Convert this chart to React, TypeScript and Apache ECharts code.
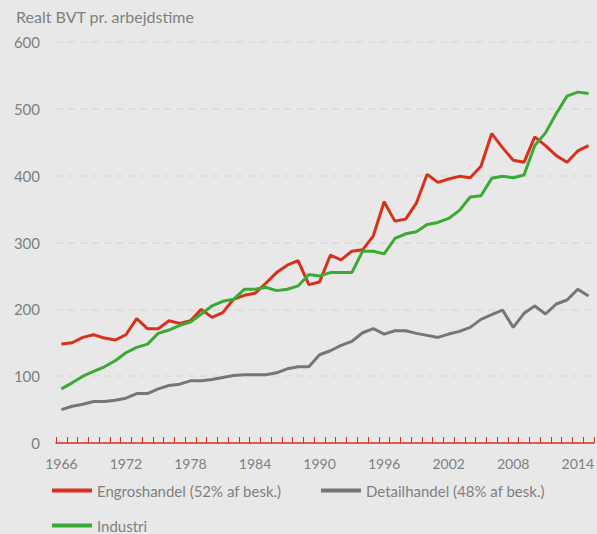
import React, { useEffect, useRef } from "react";
import * as echarts from "echarts";

const years: string[] = [];
for (let y = 1966; y <= 2015; y++) years.push(String(y));

const engros = [
  148, 150, 158, 162, 157, 154, 162, 186, 171, 171,
  183, 179, 183, 200, 188, 195, 215, 221, 224, 239,
  255, 266, 273, 237, 241, 281, 274, 287, 289, 310,
  361, 332, 335, 359, 402, 390, 395, 399, 397, 414,
  463, 442, 423, 420, 458, 445, 430, 420, 437, 445,
];
const detail = [
  50, 55, 58, 62, 62, 64, 67, 74, 74, 81,
  86, 88, 93, 93, 95, 98, 101, 102, 102, 102,
  105, 111, 114, 114, 132, 138, 146, 152, 165, 171,
  163, 168, 168, 164, 161, 158, 163, 167, 173, 185,
  192, 199, 173, 194, 205, 193, 208, 214, 230, 220,
];
const industri = [
  81, 90, 100, 107, 114, 123, 135, 143, 148, 164,
  169, 176, 181, 193, 205, 212, 215, 230, 230, 233,
  228, 230, 235, 252, 250, 255, 255, 255, 287, 287,
  283, 306, 313, 316, 327, 330, 336, 348, 368, 370,
  396, 399, 397, 401, 445, 464, 493, 519, 525, 523,
];

const NAME_E = "Engroshandel (52% af besk.)";
const NAME_D = "Detailhandel (48% af besk.)";
const NAME_I = "Industri";
const RED = "#d9301c";
const GRAY = "#767676";
const GREEN = "#3aaa35";
const TXT = "#7f7f7f";
const FONT = "Lato";

export default function App() {
  const ref = useRef<HTMLDivElement>(null);
  useEffect(() => {
    if (!ref.current) return;
    const chart = echarts.init(ref.current, null, { renderer: "svg" });
    const legendBase = {
      icon: "rect",
      itemWidth: 40,
      itemHeight: 4,
      itemGap: 5,
      padding: 0,
      textStyle: { color: TXT, fontSize: 15, fontFamily: FONT },
      selectedMode: false,
    };
    chart.setOption({
      animation: false,
      backgroundColor: "#e8e8e8",
      title: {
        text: "Realt BVT pr. arbejdstime",
        left: 16,
        top: 8,
        padding: 0,
        textStyle: { color: TXT, fontSize: 16, fontWeight: "normal", fontFamily: FONT },
      },
      legend: [
        { ...legendBase, data: [NAME_E], left: 52, top: 483 },
        { ...legendBase, data: [NAME_D], left: 321, top: 483 },
        { ...legendBase, data: [NAME_I], left: 52, top: 518 },
      ],
      grid: { left: 56, right: 0, top: 42, bottom: 91, containLabel: false },
      xAxis: {
        type: "category",
        data: years,
        boundaryGap: true,
        axisLine: { lineStyle: { color: RED, width: 1.5 } },
        axisTick: { show: true, inside: true, length: 6, interval: 0, lineStyle: { color: RED, width: 1 } },
        axisLabel: { interval: 5, color: TXT, fontSize: 14, fontFamily: FONT, margin: 13 },
        splitLine: { show: false },
      },
      yAxis: {
        type: "value",
        min: 0,
        max: 600,
        interval: 100,
        axisLine: { show: false },
        axisTick: { show: false },
        axisLabel: { color: TXT, fontSize: 15, fontFamily: FONT, margin: 16 },
        splitLine: { lineStyle: { color: "#dadada", type: [7, 5], width: 1.5 } },
      },
      series: [
        { name: NAME_E, type: "line", data: engros, symbol: "none", lineStyle: { color: RED, width: 3 }, itemStyle: { color: RED }, z: 3 },
        { name: NAME_D, type: "line", data: detail, symbol: "none", lineStyle: { color: GRAY, width: 3 }, itemStyle: { color: GRAY }, z: 2 },
        { name: NAME_I, type: "line", data: industri, symbol: "none", lineStyle: { color: GREEN, width: 3 }, itemStyle: { color: GREEN }, z: 4 },
      ],
    });
    return () => chart.dispose();
  }, []);
  return (
    <div
      ref={ref}
      style={{ position: "fixed", left: 0, top: 0, width: 597, height: 534 }}
    />
  );
}
